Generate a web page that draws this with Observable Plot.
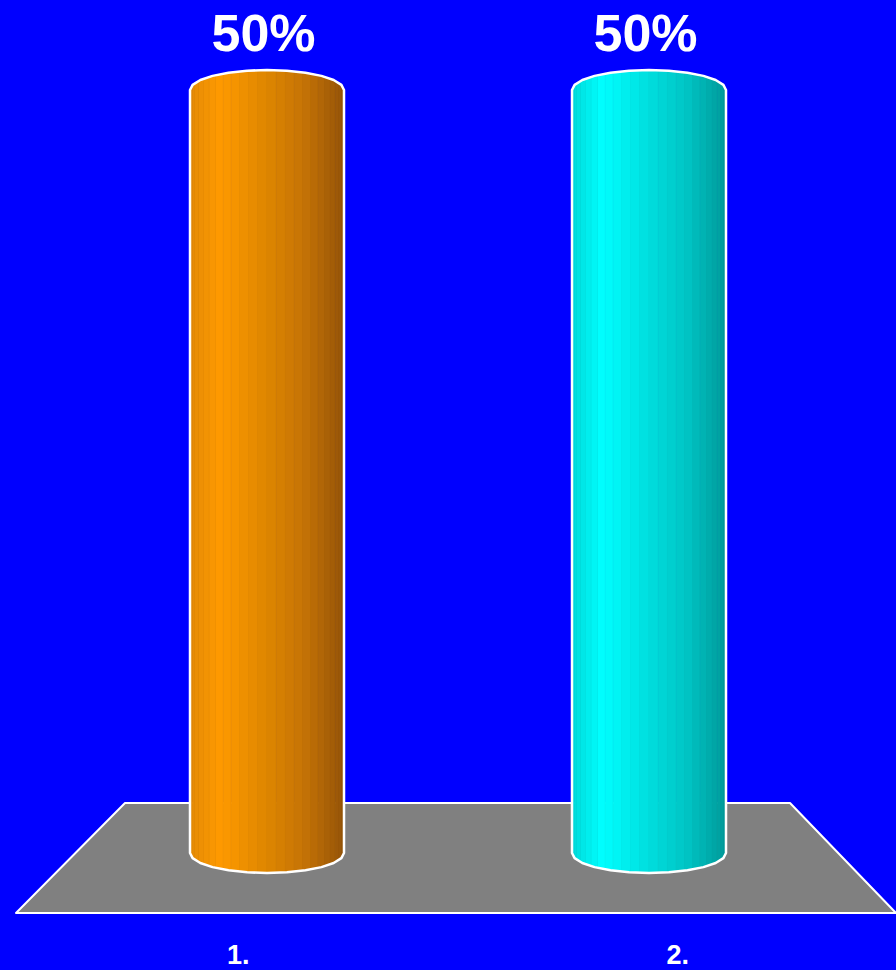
<!DOCTYPE html>
<html>
<head>
<meta charset="utf-8">
<script src="https://cdn.jsdelivr.net/npm/d3@7"></script>
<script src="https://cdn.jsdelivr.net/npm/@observablehq/plot@0.6"></script>
<style>
  html, body { margin: 0; padding: 0; background: #0000FF; }
  #chart svg { display: block; }
</style>
</head>
<body>
<div id="chart"></div>
<script>
// ---- data ----
const categories = ["1.", "2."];
const values = [50, 50];
const valueLabels = ["50%", "50%"];

// ---- styles ----
const shadeStops = [
  ["#E48A06", "#FF9A00", "#DE8600", "#C47206", "#955408"],
  ["#00DADA", "#00FFFF", "#00DEDE", "#00C4C4", "#009A9A"]
];
const stopPos = [0, 0.2, 0.5, 0.75, 1];
const FONT = "'Liberation Sans', Arial, sans-serif";

const data = categories.map((c, i) => ({cat: c, value: values[i], label: valueLabels[i], i}));

const svgNS = "http://www.w3.org/2000/svg";
function el(name, attrs) {
  const e = document.createElementNS(svgNS, name);
  for (const k in attrs) e.setAttribute(k, attrs[k]);
  return e;
}
function bw(x) { return typeof x.bandwidth === "function" ? x.bandwidth() : x.bandwidth; }
function shade(i, t) {
  const s = shadeStops[i];
  for (let k = 1; k < stopPos.length; k++) {
    if (t <= stopPos[k]) {
      const u = (t - stopPos[k - 1]) / (stopPos[k] - stopPos[k - 1]);
      return d3.interpolateRgb(s[k - 1], s[k])(u);
    }
  }
  return s[s.length - 1];
}

// floor (trapezoid) derived from the x range and y baseline
function floorMark(index, scales, values, dimensions) {
  const {x, y} = scales;
  const [r0, r1] = x.range();
  const y0 = y(0);
  const g = el("g", {});
  const pts = [
    [r0 - 65, y0 - 50], [r1 + 64, y0 - 50],
    [r1 + 170, y0 + 60], [r0 - 174, y0 + 60]
  ];
  g.appendChild(el("path", {
    d: "M" + pts.map(p => p.join(",")).join("L") + "Z",
    fill: "#808080", stroke: "#FFFFFF", "stroke-width": 2, "stroke-linejoin": "round"
  }));
  return g;
}

// cylinders
function cylinderMark(index, scales, values, dimensions) {
  const {x, y} = scales;
  const w = bw(x);
  const g = el("g", {});
  const defs = el("defs", {});
  g.appendChild(defs);
  const ry = 20, seg = 12, N = 26;
  data.forEach((d, j) => {
    const x0 = x(d.cat), x1 = x0 + w, cx = (x0 + x1) / 2, r = w / 2;
    const yT = y(d.value), yB = y(0);
    const pts = [];
    for (let k = 0; k <= seg; k++) {
      const th = Math.PI - k * Math.PI / seg;
      pts.push([cx + r * Math.cos(th), yT - ry * Math.sin(th)]);
    }
    for (let k = 0; k <= seg; k++) {
      const th = k * Math.PI / seg;
      pts.push([cx + r * Math.cos(th), yB + ry * Math.sin(th)]);
    }
    const dPath = "M" + pts.map(p => p[0].toFixed(2) + "," + p[1].toFixed(2)).join("L") + "Z";
    const id = "cylclip" + j;
    const cp = el("clipPath", {id});
    cp.appendChild(el("path", {d: dPath}));
    defs.appendChild(cp);
    const fg = el("g", {"clip-path": `url(#${id})`});
    for (let k = 0; k < N; k++) {
      const a0 = Math.PI - k * Math.PI / N, a1 = Math.PI - (k + 1) * Math.PI / N;
      const xa = cx + r * Math.cos(a0), xb = cx + r * Math.cos(a1);
      const t = ((xa + xb) / 2 - x0) / w;
      const col = shade(d.i, t);
      fg.appendChild(el("rect", {
        x: xa, y: yT - ry - 2, width: xb - xa + 0.6, height: yB - yT + 2 * ry + 4, fill: col
      }));
      fg.appendChild(el("line", {
        x1: xb, x2: xb, y1: yT - ry - 2, y2: yB + ry + 2,
        stroke: d3.color(col).darker(0.35).formatHex(), "stroke-opacity": 0.45, "stroke-width": 1
      }));
    }
    g.appendChild(fg);
    g.appendChild(el("path", {
      d: dPath, fill: "none", stroke: "#FFFFFF", "stroke-width": 2.5, "stroke-linejoin": "round"
    }));
  });
  return g;
}

// category labels placed on the floor's front edge (perspective)
function categoryLabels(index, scales, values, dimensions) {
  const {x, y} = scales;
  const w = bw(x);
  const [r0, r1] = x.range();
  const vc = (r0 + r1) / 2;
  const g = el("g", {});
  data.forEach(d => {
    const c = x(d.cat) + w / 2;
    const t = el("text", {
      x: vc + (c - vc) * 1.15, y: y(0) + 110.5,
      "text-anchor": "middle", fill: "#FFFFFF",
      "font-family": FONT, "font-weight": 700, "font-size": 27
    });
    t.textContent = d.cat;
    g.appendChild(t);
  });
  return g;
}

const chart = Plot.plot({
  width: 896,
  height: 970,
  marginLeft: 190,
  marginRight: 170,
  marginTop: 90,
  marginBottom: 117,
  style: {background: "#0000FF", overflow: "visible"},
  x: {type: "band", domain: categories, paddingInner: 0.597, paddingOuter: 0, axis: null},
  y: {domain: [0, 50], axis: null},
  marks: [
    floorMark,
    cylinderMark,
    Plot.text(data, {
      x: "cat", y: "value", text: "label", dy: -56, dx: -4,
      fill: "white", fontSize: 52, fontWeight: 700, fontFamily: FONT
    }),
    categoryLabels
  ]
});
document.getElementById("chart").appendChild(chart);
</script>
</body>
</html>
